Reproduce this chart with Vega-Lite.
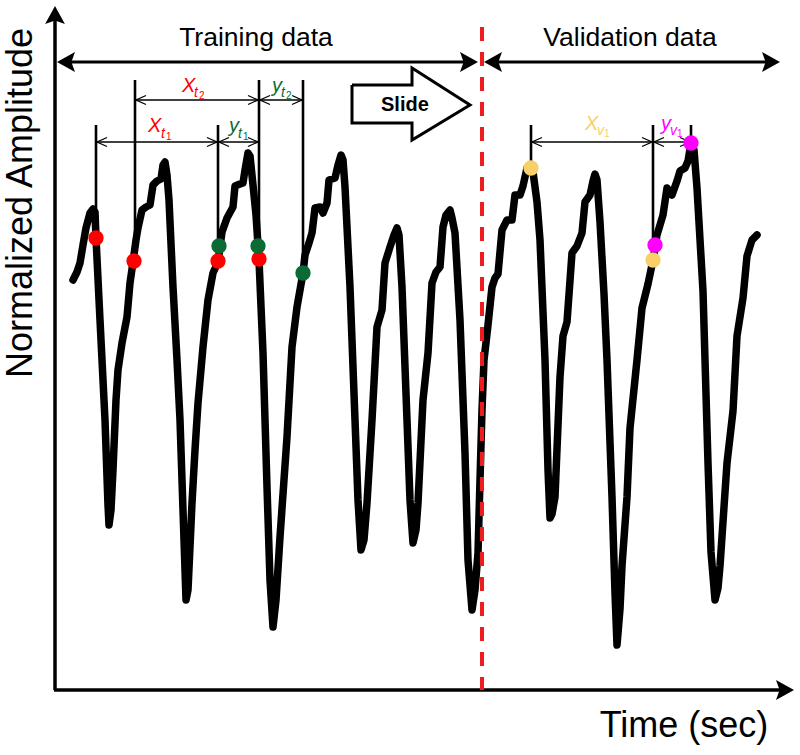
{
  "$schema": "https://vega.github.io/schema/vega-lite/v6.json",
  "width": 800,
  "height": 755,
  "autosize": {"type": "fit", "contains": "padding"},
  "padding": 0,
  "background": "white",
  "config": {"view": {"stroke": null}, "text": {"font": "Liberation Sans"}},
  "datasets": {
    "wave": [
      {"x":73,"y":280},{"x":77,"y":272},{"x":80,"y":263},{"x":83,"y":245},{"x":86,"y":228},{"x":90,"y":213},{"x":93,"y":209},{"x":95,"y":212},{"x":96,"y":238},
      {"x":100,"y":320},{"x":105,"y":420},{"x":108,"y":505},{"x":109,"y":525},{"x":111,"y":510},{"x":113,"y":470},{"x":116,"y":400},{"x":118,"y":370},{"x":122,"y":343},{"x":127,"y":317},{"x":130,"y":283},{"x":133,"y":262},{"x":136,"y":240},{"x":138,"y":228},{"x":142,"y":210},{"x":146,"y":207},{"x":150,"y":205},{"x":153,"y":185},{"x":157,"y":181},{"x":161,"y":179},{"x":163,"y":165},{"x":165,"y":162},{"x":167,"y":175},{"x":169,"y":200},{"x":173,"y":287},{"x":177,"y":360},{"x":180,"y":420},{"x":184,"y":540},{"x":186,"y":600},{"x":188,"y":590},{"x":192,"y":503},{"x":195,"y":450},{"x":198,"y":403},{"x":203,"y":347},{"x":208,"y":300},{"x":213,"y":273},{"x":218,"y":262},{"x":222,"y":232},{"x":227,"y":218},{"x":233,"y":207},{"x":235,"y":186},{"x":240,"y":184},{"x":243,"y":183},{"x":245,"y":170},{"x":248,"y":153},{"x":250,"y":156},{"x":253,"y":185},{"x":256,"y":215},{"x":259,"y":260},
      {"x":263,"y":353},{"x":267,"y":487},{"x":270,"y":580},{"x":273,"y":627},{"x":276,"y":600},{"x":280,"y":537},{"x":287,"y":437},{"x":292,"y":347},{"x":297,"y":307},{"x":303,"y":273},{"x":305,"y":255},{"x":309,"y":243},{"x":312,"y":233},{"x":315,"y":208},{"x":320,"y":207},{"x":323,"y":213},{"x":327,"y":203},{"x":329,"y":180},{"x":335,"y":178},{"x":338,"y":165},{"x":341,"y":155},{"x":343,"y":160},{"x":345,"y":187},{"x":350,"y":287},{"x":355,"y":420},{"x":358,"y":500},{"x":361,"y":550},{"x":364,"y":540},{"x":367,"y":503},{"x":372,"y":420},{"x":377,"y":327},{"x":382,"y":310},{"x":385,"y":263},{"x":390,"y":247},{"x":394,"y":235},{"x":397,"y":228},{"x":399,"y":235},{"x":402,"y":287},{"x":407,"y":420},{"x":410,"y":500},{"x":413,"y":543},{"x":416,"y":530},{"x":418,"y":503},{"x":423,"y":400},{"x":428,"y":353},{"x":432,"y":283},{"x":436,"y":272},{"x":440,"y":267},{"x":443,"y":227},{"x":446,"y":215},{"x":450,"y":210},{"x":452,"y":218},{"x":455,"y":233},{"x":460,"y":320},{"x":465,"y":453},{"x":468,"y":560},{"x":472,"y":610},{"x":475,"y":590},{"x":478,"y":553},{"x":480,"y":480},{"x":482,"y":410},{"x":484,"y":360},{"x":488,"y":325},{"x":492,"y":287},{"x":495,"y":278},{"x":498,"y":274},{"x":502,"y":230},{"x":507,"y":220},{"x":512,"y":220},{"x":515,"y":195},{"x":520,"y":195},{"x":523,"y":186},{"x":527,"y":168},{"x":530,"y":165},{"x":533,"y":172},{"x":537,"y":202},{"x":540,"y":240},{"x":545,"y":360},{"x":548,"y":470},{"x":550,"y":518},{"x":552,"y":514},{"x":555,"y":497},{"x":560,"y":377},{"x":563,"y":336},{"x":567,"y":322},{"x":572,"y":253},{"x":577,"y":246},{"x":582,"y":233},{"x":585,"y":202},{"x":590,"y":195},{"x":593,"y":181},{"x":595,"y":174},{"x":597,"y":180},{"x":600,"y":222},{"x":604,"y":294},{"x":607,"y":360},{"x":612,"y":497},{"x":615,"y":593},{"x":617,"y":645},{"x":620,"y":609},{"x":622,"y":566},{"x":627,"y":497},{"x":630,"y":428},{"x":637,"y":360},{"x":642,"y":308},{"x":648,"y":284},{"x":653,"y":260},{"x":657,"y":235},{"x":663,"y":215},{"x":667,"y":188},{"x":672,"y":195},{"x":677,"y":181},{"x":680,"y":171},{"x":685,"y":168},{"x":688,"y":161},{"x":691,"y":143},{"x":694,"y":150},{"x":697,"y":188},{"x":703,"y":291},{"x":708,"y":463},{"x":711,"y":552},{"x":715,"y":600},{"x":718,"y":588},{"x":720,"y":566},{"x":727,"y":463},{"x":733,"y":411},{"x":737,"y":336},{"x":743,"y":298},{"x":747,"y":256},{"x":752,"y":240},{"x":757,"y":235}
    ],
    "segments": [
      {"x":55,"y":690,"x2":55,"y2":20,"kind":"axis"},
      {"x":54,"y":690,"x2":782,"y2":690,"kind":"axis"},
      {"x":62,"y":62,"x2":472,"y2":62,"kind":"span"},
      {"x":490,"y":62,"x2":774,"y2":62,"kind":"span"},
      {"x":96,"y":125,"x2":96,"y2":238,"kind":"marker"},
      {"x":135,"y":80,"x2":135,"y2":261,"kind":"marker"},
      {"x":218,"y":125,"x2":218,"y2":261,"kind":"marker"},
      {"x":259,"y":80,"x2":259,"y2":259,"kind":"marker"},
      {"x":303,"y":80,"x2":303,"y2":273,"kind":"marker"},
      {"x":531,"y":125,"x2":531,"y2":168,"kind":"marker"},
      {"x":653,"y":125,"x2":653,"y2":257,"kind":"marker"},
      {"x":691,"y":125,"x2":691,"y2":143,"kind":"marker"},
      {"x":96,"y":142,"x2":218,"y2":142,"kind":"dim"},
      {"x":218,"y":142,"x2":259,"y2":142,"kind":"dim"},
      {"x":135,"y":100,"x2":259,"y2":100,"kind":"dim"},
      {"x":259,"y":100,"x2":303,"y2":100,"kind":"dim"},
      {"x":531,"y":142,"x2":653,"y2":142,"kind":"dim"},
      {"x":653,"y":142,"x2":691,"y2":142,"kind":"dim"},
      {"x":482,"y":27,"x2":482,"y2":690,"kind":"split"}
    ],
    "heads": [
      {"x":55,"y":6,"dir":"up"},
      {"x":794,"y":690,"dir":"right"},
      {"x":57,"y":62,"dir":"left"},
      {"x":478,"y":62,"dir":"right"},
      {"x":484,"y":62,"dir":"left"},
      {"x":780,"y":62,"dir":"right"}
    ],
    "chevrons": [
      {"x":97,"y":142,"side":"L"},{"x":217,"y":142,"side":"R"},
      {"x":219,"y":142,"side":"L"},{"x":258,"y":142,"side":"R"},
      {"x":136,"y":100,"side":"L"},{"x":258,"y":100,"side":"R"},
      {"x":260,"y":100,"side":"L"},{"x":302,"y":100,"side":"R"},
      {"x":532,"y":142,"side":"L"},{"x":652,"y":142,"side":"R"},
      {"x":654,"y":142,"side":"L"},{"x":690,"y":142,"side":"R"}
    ],
    "dots": [
      {"x":96,"y":238,"grp":"train_x"},
      {"x":134,"y":261,"grp":"train_x"},
      {"x":218,"y":261,"grp":"train_x"},
      {"x":259,"y":259,"grp":"train_x"},
      {"x":219,"y":246,"grp":"train_y"},
      {"x":258,"y":246,"grp":"train_y"},
      {"x":303,"y":273,"grp":"train_y"},
      {"x":531,"y":168,"grp":"val_x"},
      {"x":653,"y":260,"grp":"val_x"},
      {"x":655,"y":245,"grp":"val_y"},
      {"x":691,"y":143,"grp":"val_y"}
    ],
    "slide": [
      {"i":0,"x":352,"y":85},{"i":1,"x":412,"y":85},{"i":2,"x":412,"y":68},{"i":3,"x":470,"y":105},{"i":4,"x":412,"y":140},{"i":5,"x":412,"y":123},{"i":6,"x":352,"y":123},{"i":7,"x":352,"y":85}
    ],
    "texts": [
      {"text":"Training data","x":256,"y":46,"role":"heading","grp":"none"},
      {"text":"Validation data","x":630,"y":46,"role":"heading","grp":"none"},
      {"text":"Time (sec)","x":684,"y":737,"role":"axis","grp":"none"},
      {"text":"Normalized Amplitude","x":32,"y":203,"role":"axisv","grp":"none"},
      {"text":"Slide","x":381,"y":111,"role":"slide","grp":"none"},
      {"text":"X","x":148,"y":132,"role":"main","grp":"train_x"},
      {"text":"t","x":161,"y":138,"role":"sub","grp":"train_x"},
      {"text":"1","x":166,"y":140,"role":"subsub","grp":"train_x"},
      {"text":"X","x":182,"y":92,"role":"main","grp":"train_x"},
      {"text":"t","x":194,"y":97,"role":"sub","grp":"train_x"},
      {"text":"2","x":199,"y":99,"role":"subsub","grp":"train_x"},
      {"text":"y","x":229,"y":132,"role":"main","grp":"train_y"},
      {"text":"t","x":238,"y":138,"role":"sub","grp":"train_y"},
      {"text":"1","x":243,"y":140,"role":"subsub","grp":"train_y"},
      {"text":"y","x":272,"y":92,"role":"main","grp":"train_y"},
      {"text":"t","x":281,"y":97,"role":"sub","grp":"train_y"},
      {"text":"2","x":286,"y":99,"role":"subsub","grp":"train_y"},
      {"text":"X","x":585,"y":130,"role":"main","grp":"val_x"},
      {"text":"v","x":597,"y":135,"role":"sub","grp":"val_x"},
      {"text":"1","x":604,"y":137,"role":"subsub","grp":"val_x"},
      {"text":"y","x":661,"y":130,"role":"main","grp":"val_y"},
      {"text":"v","x":670,"y":135,"role":"sub","grp":"val_y"},
      {"text":"1","x":677,"y":137,"role":"subsub","grp":"val_y"}
    ]
  },
  "encoding": {
    "x": {"field": "x", "type": "quantitative", "scale": {"domain": [0, 800], "nice": false, "zero": false}, "axis": null},
    "y": {"field": "y", "type": "quantitative", "scale": {"domain": [0, 755], "nice": false, "zero": false, "reverse": true}, "axis": null}
  },
  "resolve": {"scale": {"shape": "independent"}},
  "layer": [
    {
      "data": {"name": "wave"},
      "mark": {"type": "line", "color": "black", "strokeWidth": 7.5, "strokeCap": "round", "strokeJoin": "round"}
    },
    {
      "data": {"name": "segments"},
      "transform": [{"filter": "datum.kind === 'marker'"}],
      "mark": {"type": "rule", "color": "black", "strokeWidth": 2.6},
      "encoding": {"x2": {"field": "x2"}, "y2": {"field": "y2"}}
    },
    {
      "data": {"name": "segments"},
      "transform": [{"filter": "datum.kind === 'dim'"}],
      "mark": {"type": "rule", "color": "black", "strokeWidth": 1.3},
      "encoding": {"x2": {"field": "x2"}, "y2": {"field": "y2"}}
    },
    {
      "data": {"name": "chevrons"},
      "mark": {"type": "point", "filled": false, "stroke": "black", "strokeWidth": 1.3, "size": 400, "opacity": 1},
      "encoding": {
        "shape": {"field": "side", "type": "nominal", "legend": null,
          "scale": {"domain": ["L", "R"], "range": ["M1,-0.45L0,0L1,0.45", "M-1,-0.45L0,0L-1,0.45"]}}
      }
    },
    {
      "data": {"name": "dots"},
      "mark": {"type": "circle", "size": 235, "opacity": 1},
      "encoding": {
        "color": {"field": "grp", "type": "nominal", "legend": null,
          "scale": {"domain": ["train_x", "train_y", "val_x", "val_y"], "range": ["#FF0000", "#0B6B35", "#F8D06A", "#FF00FF"]}}
      }
    },
    {
      "data": {"name": "segments"},
      "transform": [{"filter": "datum.kind === 'span'"}],
      "mark": {"type": "rule", "color": "black", "strokeWidth": 3},
      "encoding": {"x2": {"field": "x2"}, "y2": {"field": "y2"}}
    },
    {
      "data": {"name": "segments"},
      "transform": [{"filter": "datum.kind === 'axis'"}],
      "mark": {"type": "rule", "color": "black", "strokeWidth": 3.5},
      "encoding": {"x2": {"field": "x2"}, "y2": {"field": "y2"}}
    },
    {
      "data": {"name": "heads"},
      "mark": {"type": "point", "filled": true, "color": "black", "size": 1296, "opacity": 1, "strokeWidth": 0},
      "encoding": {
        "shape": {"field": "dir", "type": "nominal", "legend": null,
          "scale": {"domain": ["left", "right", "up"], "range": ["M0,0L1,-0.55L0.8,0L1,0.55Z", "M0,0L-1,-0.55L-0.8,0L-1,0.55Z", "M0,0L-0.55,1L0,0.8L0.55,1Z"]}}
      }
    },
    {
      "data": {"name": "segments"},
      "transform": [{"filter": "datum.kind === 'split'"}],
      "mark": {"type": "rule", "color": "#EE1C1C", "strokeWidth": 4, "strokeDash": [14, 11]},
      "encoding": {"x2": {"field": "x2"}, "y2": {"field": "y2"}}
    },
    {
      "data": {"name": "slide"},
      "mark": {"type": "line", "color": "black", "strokeWidth": 3, "strokeJoin": "miter"},
      "encoding": {"order": {"field": "i", "type": "quantitative"}}
    },
    {
      "data": {"name": "texts"},
      "transform": [{"filter": "datum.role === 'heading'"}],
      "mark": {"type": "text", "fontSize": 26.5, "align": "center", "baseline": "alphabetic", "color": "black"},
      "encoding": {"text": {"field": "text"}}
    },
    {
      "data": {"name": "texts"},
      "transform": [{"filter": "datum.role === 'axis'"}],
      "mark": {"type": "text", "fontSize": 36, "align": "center", "baseline": "alphabetic", "color": "black"},
      "encoding": {"text": {"field": "text"}}
    },
    {
      "data": {"name": "texts"},
      "transform": [{"filter": "datum.role === 'axisv'"}],
      "mark": {"type": "text", "fontSize": 36, "align": "center", "baseline": "alphabetic", "angle": 270, "color": "black"},
      "encoding": {"text": {"field": "text"}}
    },
    {
      "data": {"name": "texts"},
      "transform": [{"filter": "datum.role === 'slide'"}],
      "mark": {"type": "text", "fontSize": 20, "fontWeight": "bold", "align": "left", "baseline": "alphabetic", "color": "black"},
      "encoding": {"text": {"field": "text"}}
    },
    {
      "data": {"name": "texts"},
      "transform": [{"filter": "datum.role === 'main'"}],
      "mark": {"type": "text", "fontSize": 20, "fontStyle": "italic", "align": "left", "baseline": "alphabetic"},
      "encoding": {"text": {"field": "text"}, "color": {"field": "grp", "type": "nominal", "legend": null}}
    },
    {
      "data": {"name": "texts"},
      "transform": [{"filter": "datum.role === 'sub'"}],
      "mark": {"type": "text", "fontSize": 14, "fontStyle": "italic", "align": "left", "baseline": "alphabetic"},
      "encoding": {"text": {"field": "text"}, "color": {"field": "grp", "type": "nominal", "legend": null}}
    },
    {
      "data": {"name": "texts"},
      "transform": [{"filter": "datum.role === 'subsub'"}],
      "mark": {"type": "text", "fontSize": 10, "align": "left", "baseline": "alphabetic"},
      "encoding": {"text": {"field": "text"}, "color": {"field": "grp", "type": "nominal", "legend": null}}
    }
  ]
}
